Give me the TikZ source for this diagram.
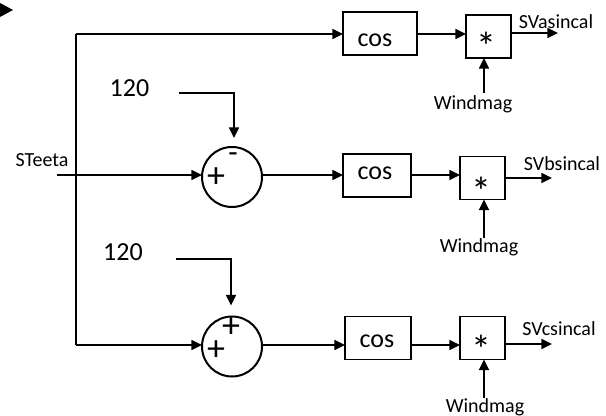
\documentclass[tikz,border=0pt]{standalone}
\usepackage{fontspec}
\setmainfont{Carlito}
\usetikzlibrary{positioning,arrows.meta}
\def\len{0.75}
\tikzset{
    boxnode/.style={
        draw,
        line width=1.4pt,
        minimum height=43*\len pt,
        inner sep=0pt,
        outer sep=0pt
    },
    sumnode/.style={
        draw,
        circle,
        line width=1.5pt,
        minimum size=60*\len pt,
        inner sep=0pt,
        outer sep=0pt
    },
    bigtext/.style={
        inner sep=0pt,
        font=\fontsize{19.5pt}{22pt}\selectfont
    },
    signtext/.style={
        inner sep=0pt,
        font=\fontsize{27pt}{30pt}\selectfont
    },
    minustext/.style={
        inner sep=0pt,
        font=\fontsize{23pt}{26pt}\selectfont
    },
    startext/.style={
        inner sep=0pt,
        font=\fontsize{30pt}{33pt}\selectfont
    },
    smalltext/.style={
        inner sep=0pt,
        font=\fontsize{15pt}{18pt}\selectfont
    },
    wire/.style={
        line width=1.2pt
    },
    arrowwire/.style={
        wire,
        -{Triangle[length=8pt,width=7.5pt]}
    }
}
\begin{document}
\begin{tikzpicture}[x=\len pt,y=-\len pt]
        \useasboundingbox (0,0) rectangle (606,416);
        \fill (0,3) -- (13,10) -- (0,17) -- cycle;

        % sums and blocks
        \node[sumnode] (sumb) at (232,177) {};
        \node[sumnode] (sumc) at (232,346.5) {};
        \node[boxnode,minimum width=74*\len pt] (cosa) at (380,33.5) {};
        \node[boxnode,minimum width=68*\len pt,right = 81*\len pt of sumb,yshift=1.5*\len pt] (cosb) {};
        \node[boxnode,minimum width=66*\len pt,right = 83*\len pt of sumc,yshift=8.5*\len pt] (cosc) {};
        \node[boxnode,minimum width=45*\len pt,right = 49*\len pt of cosa,yshift=-3*\len pt] (stara) {};
        \node[boxnode,minimum width=45*\len pt,right = 49*\len pt of cosb,yshift=-2.5*\len pt] (starb) {};
        \node[boxnode,minimum width=45*\len pt,right = 49*\len pt of cosc] (starc) {};

        % texts inside blocks
        \node[bigtext,xshift=-5*\len pt,yshift=-6.5*\len pt] (cosatext) at (cosa) {cos};
        \node[bigtext,xshift=-2*\len pt,yshift=2*\len pt] (cosbtext) at (cosb) {cos};
        \node[bigtext,xshift=-1*\len pt,yshift=-3.5*\len pt] (cosctext) at (cosc) {cos};
        \node[startext,xshift=-2.5*\len pt,yshift=-10*\len pt] (staratext) at (stara) {*};
        \node[startext,xshift=-1.5*\len pt,yshift=-13*\len pt] (starbtext) at (starb) {*};
        \node[startext,xshift=-1.5*\len pt,yshift=-11*\len pt] (starctext) at (starc) {*};
        \node[signtext,xshift=-16*\len pt,yshift=-1*\len pt] (plusb) at (sumb) {+};
        \node[minustext,xshift=1*\len pt,yshift=19*\len pt] (minusb) at (sumb) {-};
        \node[signtext,xshift=-16*\len pt,yshift=-4*\len pt] (plusc) at (sumc) {+};
        \node[signtext,xshift=-1*\len pt,yshift=19*\len pt] (pluscc) at (sumc) {+};

        % free ends
        \coordinate (rowa) at (76,34);
        \coordinate (rowc) at (76,345);
        \coordinate (steeta) at (57,175);
        \coordinate (outa) at (558,33);
        \coordinate (outb) at (552,178);
        \coordinate (outc) at (552,344);
        \coordinate (inwa) at (484,93);
        \coordinate (inwb) at (484,238);
        \coordinate (inwc) at (484,398);
        \coordinate (refb) at (179,93);
        \coordinate (refc) at (176,259);
        \coordinate[above = 9*\len pt of sumb,xshift=2*\len pt] (tipb);
        \coordinate[above = 11*\len pt of sumc,xshift=-1*\len pt] (tipc);

        % outer texts
        \node[bigtext] (numb) at (129.5,88) {120};
        \node[bigtext] (numc) at (123,252) {120};
        \node[smalltext,above = 8*\len pt of steeta,xshift=-15*\len pt] (steetatext) {STeeta};
        \node[smalltext,above = 4*\len pt of outa,xshift=-2*\len pt] (outatext) {SVasincal};
        \node[smalltext,above = 7*\len pt of outb,xshift=10*\len pt] (outbtext) {SVbsincal};
        \node[smalltext,above = 8*\len pt of outc,xshift=7*\len pt] (outctext) {SVcsincal};
        \node[smalltext,below = 2*\len pt of inwa,xshift=-11*\len pt] (windatext) {Windmag};
        \node[smalltext,below = 0*\len pt of inwb,xshift=-5*\len pt] (windbtext) {Windmag};
        \node[smalltext,below = 0*\len pt of inwc,xshift=1*\len pt] (windctext) {Windmag};

        % connectors
        \draw[wire] (rowa) -- (rowc);
        \draw[arrowwire] (rowa) -- (rowa -| cosa.west);
        \draw[arrowwire] (steeta) -- (steeta -| sumb.west);
        \draw[arrowwire] (rowc) -- (rowc -| sumc.west);
        \draw[arrowwire] (steeta -| sumb.east) -- (steeta -| cosb.west);
        \draw[arrowwire] (rowc -| sumc.east) -- (rowc -| cosc.west);
        \draw[arrowwire] (rowa -| cosa.east) -- (rowa -| stara.west);
        \draw[arrowwire] (steeta -| cosb.east) -- (steeta -| starb.west);
        \draw[arrowwire] (rowc -| cosc.east) -- (rowc -| starc.west);
        \draw[arrowwire] (outa -| stara.east) -- (outa);
        \draw[arrowwire] (outb -| starb.east) -- (outb);
        \draw[arrowwire] (outc -| starc.east) -- (outc);
        \draw[arrowwire] (inwa) -- (inwa |- stara.south);
        \draw[arrowwire] (inwb) -- (inwb |- starb.south);
        \draw[arrowwire] (inwc) -- (inwc |- starc.south);
        \draw[arrowwire] (refb) -| (tipb);
        \draw[arrowwire] (refc) -| (tipc);
    \end{tikzpicture}
\end{document}
